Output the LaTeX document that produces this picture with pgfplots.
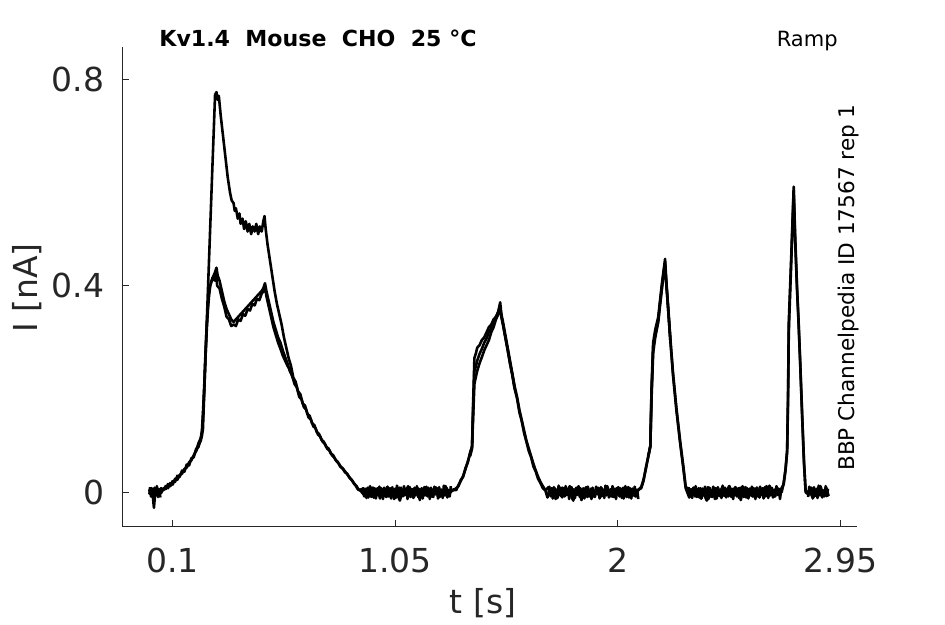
\documentclass[border=0pt]{standalone}
\usepackage{fontspec}
\setmainfont{DejaVu Sans}
\usepackage{pgfplots}
\pgfplotsset{compat=1.18}
\definecolor{axgray}{HTML}{262626}
\begin{document}
\begin{tikzpicture}[x=1bp,y=1bp]
\useasboundingbox (0,0) rectangle (472.5,312);
\begin{axis}[
  at={(61.15bp,48.65bp)}, anchor=south west,
  scale only axis, width=367.2bp, height=240bp,
  xmin=-0.115, xmax=3.02, ymin=-0.0666, ymax=0.863,
  axis lines=left, axis line style={axgray, line width=0.6pt, -},
  tick align=inside, major tick length=3.5bp,
  tick style={axgray, line width=0.6pt},
  xtick={0.1,1.05,2,2.95}, xticklabels={0.1,1.05,2,2.95},
  ytick={0,0.4,0.8}, yticklabels={0,0.4,0.8},
  ticklabel style={font=\fontsize{16.5bp}{18bp}\selectfont, text=axgray, inner sep=0pt},
  xticklabel style={anchor=north, yshift=-10.65bp},
  yticklabel style={anchor=east, xshift=-8.9bp},
  clip=false,
  trace/.style={black, line width=1.3pt, line join=round, mark=none},
]
% Trace A (upper sweep)
\addplot[trace] coordinates {
(0.000,0.006)(0.005,-0.004)(0.010,0.008)(0.015,-0.006)(0.020,-0.030)(0.025,-0.003)(0.030,0.007)(0.035,-0.005)(0.040,0.006)(0.045,-0.002)(0.050,0.008)
(0.06,0.004)(0.07,0.012)(0.08,0.008)(0.09,0.018)(0.10,0.015)(0.11,0.026)(0.12,0.024)(0.13,0.034)(0.14,0.036)(0.15,0.045)(0.16,0.048)(0.17,0.058)(0.18,0.062)(0.19,0.072)(0.20,0.080)(0.21,0.095)(0.215,0.10)(0.22,0.105)(0.229,0.12)(0.24,0.26)(0.25,0.385)(0.26,0.51)(0.27,0.635)(0.281,0.77)(0.287,0.775)(0.292,0.76)(0.297,0.768)(0.305,0.73)(0.315,0.69)(0.325,0.65)(0.335,0.61)(0.345,0.58)(0.352,0.565)(0.36,0.56)(0.365,0.545)(0.37,0.55)(0.378,0.53)(0.385,0.54)(0.39,0.52)(0.398,0.53)(0.405,0.51)(0.412,0.525)(0.42,0.505)(0.427,0.52)(0.435,0.50)(0.442,0.515)(0.45,0.505)(0.457,0.52)(0.465,0.50)(0.472,0.515)(0.48,0.505)(0.487,0.525)(0.492,0.535)(0.497,0.51)(0.505,0.48)(0.515,0.45)(0.525,0.42)(0.535,0.39)(0.545,0.365)(0.555,0.345)(0.565,0.325)(0.575,0.30)(0.585,0.28)(0.595,0.26)
(0.605,0.245)(0.615,0.222)(0.625,0.214)(0.635,0.196)(0.645,0.19)(0.655,0.172)(0.665,0.168)(0.675,0.152)(0.685,0.148)(0.695,0.134)(0.705,0.13)(0.715,0.117)(0.725,0.113)(0.735,0.102)(0.745,0.098)(0.755,0.088)(0.765,0.085)(0.775,0.075)(0.785,0.072)(0.795,0.063)(0.805,0.059)(0.815,0.05)(0.825,0.047)(0.835,0.039)(0.845,0.036)(0.855,0.028)(0.865,0.024)(0.875,0.016)(0.885,0.012)(0.895,0.004)(0.905,0.006)
(0.91,0.004)(0.92,-0.007)(0.93,0.006)(0.94,-0.003)(0.95,0.009)(0.96,-0.010)(0.97,0.002)(0.98,-0.005)(0.99,0.008)(1.00,-0.002)(1.01,0.005)(1.02,-0.008)(1.03,0.003)(1.04,-0.001)(1.05,0.007)(1.06,-0.006)(1.07,-0.016)(1.08,0.002)(1.09,-0.004)(1.10,0.008)(1.11,-0.003)(1.12,0.006)(1.13,-0.009)(1.14,0.001)(1.15,0.007)(1.16,-0.005)(1.17,0.004)(1.18,-0.002)(1.19,0.009)(1.20,-0.007)(1.21,0.005)(1.22,-0.001)(1.23,0.006)(1.24,-0.009)(1.25,0.003)(1.26,-0.004)(1.27,0.008)(1.28,-0.003)(1.29,0.002)
(1.30,0.006)(1.31,0.004)(1.32,0.014)(1.33,0.022)(1.34,0.032)(1.35,0.045)(1.36,0.06)(1.37,0.075)(1.378,0.09)(1.383,0.18)(1.388,0.26)(1.395,0.27)(1.40,0.28)(1.41,0.285)(1.42,0.295)(1.43,0.30)(1.44,0.31)(1.45,0.32)(1.46,0.325)(1.47,0.335)(1.48,0.34)(1.49,0.35)(1.498,0.368)(1.503,0.345)(1.51,0.33)(1.52,0.305)(1.53,0.28)(1.54,0.255)(1.55,0.23)(1.56,0.205)(1.57,0.185)(1.58,0.16)(1.59,0.14)(1.60,0.12)(1.61,0.10)(1.62,0.085)(1.63,0.07)(1.64,0.055)(1.65,0.042)(1.66,0.03)(1.67,0.02)(1.68,0.012)(1.69,0.005)
(1.70,-0.010)(1.71,0.002)(1.72,-0.005)(1.73,0.008)(1.74,-0.002)(1.75,0.005)(1.76,-0.008)(1.77,0.003)(1.78,-0.001)(1.79,0.007)(1.80,-0.006)(1.81,-0.016)(1.82,0.002)(1.83,-0.004)(1.84,0.008)(1.85,-0.003)(1.86,0.006)(1.87,-0.009)(1.88,0.001)(1.89,0.007)(1.90,-0.005)(1.91,0.004)(1.92,-0.002)(1.93,0.009)(1.94,-0.007)(1.95,0.005)(1.96,-0.001)(1.97,0.006)(1.98,-0.009)(1.99,0.003)(2.00,-0.004)(2.01,0.008)(2.02,-0.003)(2.03,0.002)(2.04,-0.006)(2.05,0.007)(2.06,-0.008)(2.07,0.004)(2.08,-0.002)(2.09,0.006)
(2.10,0.01)(2.11,0.025)(2.12,0.045)(2.13,0.07)(2.139,0.09)(2.144,0.2)(2.151,0.29)(2.16,0.315)(2.173,0.34)(2.18,0.37)(2.19,0.41)(2.202,0.452)(2.207,0.41)(2.215,0.36)(2.225,0.295)(2.236,0.23)(2.25,0.165)(2.266,0.10)(2.28,0.05)(2.29,0.01)
(2.30,0.008)(2.31,-0.002)(2.32,0.005)(2.33,-0.008)(2.34,0.003)(2.35,-0.001)(2.36,0.007)(2.37,-0.006)(2.38,-0.016)(2.39,0.002)(2.40,-0.004)(2.41,0.008)(2.42,-0.003)(2.43,0.006)(2.44,-0.009)(2.45,0.001)(2.46,0.007)(2.47,-0.005)(2.48,0.004)(2.49,-0.002)(2.50,0.009)(2.51,-0.007)(2.52,0.005)(2.53,-0.001)(2.54,0.006)(2.55,-0.009)(2.56,0.003)(2.57,-0.004)(2.58,0.008)(2.59,-0.003)(2.60,0.002)(2.61,-0.006)(2.62,0.007)(2.63,-0.008)(2.64,0.004)(2.65,-0.002)(2.66,0.006)(2.67,-0.005)(2.68,0.009)(2.69,-0.003)(2.70,0.001)
(2.708,0.018)(2.716,0.045)(2.723,0.082)(2.727,0.2)(2.730,0.33)(2.74,0.45)(2.751,0.592)(2.757,0.50)(2.765,0.40)(2.772,0.33)(2.779,0.25)(2.788,0.14)(2.795,0.06)(2.802,0.0)
(2.81,-0.003)(2.82,0.006)(2.83,-0.009)(2.84,0.001)(2.85,0.007)(2.86,-0.005)(2.87,0.004)(2.88,-0.002)(2.89,0.009)(2.90,-0.007)
};
% Trace B (lower sweep)
\addplot[trace] coordinates {
(0.000,-0.004)(0.005,0.007)(0.010,-0.008)(0.015,0.004)(0.020,-0.010)(0.025,0.006)(0.030,-0.006)(0.035,0.008)(0.040,-0.003)(0.045,0.005)(0.050,-0.002)
(0.06,0.008)(0.07,0.006)(0.08,0.016)(0.09,0.012)(0.10,0.022)(0.11,0.020)(0.12,0.032)(0.13,0.030)(0.14,0.042)(0.15,0.040)(0.16,0.054)(0.17,0.052)(0.18,0.066)(0.19,0.068)(0.20,0.084)(0.21,0.088)(0.215,0.095)(0.22,0.10)(0.225,0.11)
(0.23,0.15)(0.235,0.20)(0.24,0.26)(0.245,0.31)(0.25,0.35)(0.255,0.38)(0.26,0.40)(0.27,0.415)(0.28,0.425)(0.287,0.435)(0.292,0.42)(0.30,0.41)(0.31,0.39)(0.32,0.37)(0.33,0.355)(0.34,0.345)(0.35,0.335)(0.36,0.33)(0.37,0.335)(0.38,0.34)(0.39,0.345)(0.40,0.35)(0.41,0.355)(0.42,0.36)(0.43,0.365)(0.44,0.37)(0.45,0.375)(0.46,0.38)(0.47,0.385)(0.48,0.39)(0.487,0.395)(0.494,0.405)(0.50,0.39)(0.51,0.37)(0.52,0.35)(0.53,0.33)(0.54,0.315)(0.55,0.30)(0.56,0.29)(0.57,0.275)(0.58,0.262)(0.59,0.25)
(0.60,0.235)(0.61,0.226)(0.62,0.21)(0.63,0.203)(0.64,0.185)(0.65,0.18)(0.66,0.165)(0.67,0.16)(0.68,0.145)(0.69,0.141)(0.70,0.128)(0.71,0.124)(0.72,0.112)(0.73,0.108)(0.74,0.098)(0.75,0.094)(0.76,0.084)(0.77,0.081)(0.78,0.072)(0.79,0.067)(0.80,0.060)(0.81,0.055)(0.82,0.048)(0.83,0.044)(0.84,0.038)(0.85,0.032)(0.86,0.026)(0.87,0.02)(0.88,0.014)(0.89,0.006)(0.90,0.004)
(0.915,-0.004)(0.925,0.007)(0.935,-0.010)(0.945,0.003)(0.955,0.009)(0.965,-0.005)(0.975,0.008)(0.985,-0.012)(0.995,0.004)(1.005,-0.001)(1.015,0.010)(1.025,-0.008)(1.035,0.005)(1.045,-0.013)(1.055,0.007)(1.065,-0.003)(1.075,0.009)(1.085,-0.007)(1.095,0.001)(1.105,0.012)(1.115,-0.009)(1.125,0.004)(1.135,-0.005)(1.145,0.008)(1.155,-0.015)(1.165,0.003)(1.175,0.010)(1.185,-0.004)(1.195,0.007)(1.205,-0.008)(1.215,0.001)(1.225,0.009)(1.235,-0.010)(1.245,0.005)(1.255,-0.003)(1.265,0.012)(1.275,-0.007)(1.285,0.004)
(1.30,0.004)(1.31,0.008)(1.32,0.012)(1.33,0.024)(1.34,0.03)(1.35,0.047)(1.36,0.058)(1.37,0.078)(1.378,0.088)(1.383,0.15)(1.388,0.21)(1.395,0.225)(1.40,0.235)(1.41,0.25)(1.42,0.262)(1.43,0.275)(1.44,0.285)(1.45,0.295)(1.46,0.31)(1.47,0.32)(1.48,0.335)(1.49,0.345)(1.498,0.36)(1.503,0.342)(1.51,0.325)(1.52,0.30)(1.53,0.277)(1.54,0.25)(1.55,0.228)(1.56,0.20)(1.57,0.182)(1.58,0.155)(1.59,0.138)(1.60,0.115)(1.61,0.098)(1.62,0.08)(1.63,0.068)(1.64,0.05)(1.65,0.04)(1.66,0.026)(1.67,0.018)(1.68,0.008)(1.69,0.004)
(1.705,0.010)(1.715,-0.008)(1.725,0.005)(1.735,-0.013)(1.745,0.007)(1.755,-0.003)(1.765,0.009)(1.775,-0.007)(1.785,0.001)(1.795,0.012)(1.805,-0.009)(1.815,0.004)(1.825,-0.005)(1.835,0.008)(1.845,-0.015)(1.855,0.003)(1.865,0.010)(1.875,-0.004)(1.885,0.007)(1.895,-0.008)(1.905,0.001)(1.915,0.009)(1.925,-0.010)(1.935,0.005)(1.945,-0.003)(1.955,0.012)(1.965,-0.007)(1.975,0.004)(1.985,-0.009)(1.995,0.008)(2.005,-0.001)(2.015,0.005)(2.025,-0.012)(2.035,0.003)(2.045,0.010)(2.055,-0.005)(2.065,0.007)(2.075,-0.008)(2.085,0.004)
(2.10,0.008)(2.11,0.022)(2.12,0.048)(2.13,0.068)(2.139,0.088)(2.144,0.18)(2.151,0.27)(2.16,0.30)(2.173,0.33)(2.18,0.36)(2.19,0.40)(2.202,0.445)(2.207,0.405)(2.215,0.355)(2.225,0.29)(2.236,0.226)(2.25,0.16)(2.266,0.096)(2.28,0.046)(2.29,0.008)
(2.305,-0.010)(2.315,0.003)(2.325,0.009)(2.335,-0.005)(2.345,0.008)(2.355,-0.012)(2.365,0.004)(2.375,-0.001)(2.385,0.010)(2.395,-0.008)(2.405,0.005)(2.415,-0.013)(2.425,0.007)(2.435,-0.003)(2.445,0.009)(2.455,-0.007)(2.465,0.001)(2.475,0.012)(2.485,-0.009)(2.495,0.004)(2.505,-0.005)(2.515,0.008)(2.525,-0.015)(2.535,0.003)(2.545,0.010)(2.555,-0.004)(2.565,0.007)(2.575,-0.008)(2.585,0.001)(2.595,0.009)(2.605,-0.010)(2.615,0.005)(2.625,-0.003)(2.635,0.012)(2.645,-0.007)(2.655,0.004)(2.665,-0.009)(2.675,0.008)(2.685,-0.001)(2.695,0.005)
(2.708,0.015)(2.716,0.042)(2.723,0.078)(2.727,0.18)(2.730,0.31)(2.74,0.44)(2.751,0.585)(2.757,0.49)(2.765,0.395)(2.772,0.325)(2.779,0.245)(2.788,0.135)(2.795,0.055)(2.802,0.002)
(2.815,0.001)(2.825,0.009)(2.835,-0.010)(2.845,0.005)(2.855,-0.003)(2.865,0.012)(2.875,-0.007)(2.885,0.004)(2.895,-0.009)
};
% Trace C (second lower sweep, active parts)
\addplot[trace] coordinates {
(0.20,0.08)(0.21,0.09)(0.22,0.105)(0.225,0.12)(0.23,0.16)(0.235,0.21)(0.24,0.27)(0.245,0.32)(0.25,0.36)(0.255,0.385)(0.26,0.40)(0.27,0.415)(0.28,0.41)(0.285,0.425)(0.29,0.40)(0.30,0.395)(0.31,0.375)(0.32,0.36)(0.33,0.34)(0.34,0.335)(0.35,0.322)(0.36,0.325)(0.37,0.322)(0.38,0.335)(0.39,0.332)(0.40,0.345)(0.41,0.342)(0.42,0.355)(0.43,0.352)(0.44,0.365)(0.45,0.362)(0.46,0.375)(0.47,0.372)(0.48,0.385)(0.49,0.39)(0.495,0.398)(0.50,0.38)(0.51,0.36)(0.52,0.34)(0.53,0.32)(0.54,0.305)(0.55,0.29)(0.56,0.278)(0.57,0.265)(0.58,0.255)(0.59,0.245)(0.60,0.238)(0.61,0.225)(0.62,0.215)
};
\addplot[trace] coordinates {
(1.37,0.07)(1.378,0.085)(1.383,0.17)(1.388,0.235)(1.395,0.245)(1.40,0.255)(1.41,0.268)(1.42,0.278)(1.43,0.29)(1.44,0.298)(1.45,0.31)(1.46,0.318)(1.47,0.33)(1.48,0.338)(1.49,0.35)(1.496,0.36)(1.503,0.34)(1.51,0.325)(1.52,0.30)(1.53,0.275)(1.54,0.25)(1.55,0.226)(1.56,0.2)
};
\addplot[trace] coordinates {
(2.13,0.07)(2.139,0.09)(2.144,0.19)(2.151,0.28)(2.16,0.305)(2.173,0.335)(2.18,0.365)(2.19,0.405)(2.20,0.44)(2.205,0.42)(2.215,0.355)(2.225,0.29)
};
% Trace C baseline noise
\addplot[trace] coordinates {
(0.0025,0.010)(0.0075,-0.008)(0.0125,0.006)(0.0175,-0.011)(0.0225,0.009)(0.0275,-0.005)(0.0325,0.012)(0.0375,-0.009)(0.0425,0.004)(0.0475,-0.010)
};
\addplot[trace] coordinates {
(0.9125,0.010)(0.9175,-0.008)(0.9225,0.006)(0.9275,-0.011)(0.9325,0.009)(0.9375,-0.005)(0.9425,0.012)(0.9475,-0.009)(0.9525,0.004)(0.9575,-0.010)(0.9625,0.008)(0.9675,-0.012)(0.9725,0.007)(0.9775,-0.006)(0.9825,0.011)(0.9875,-0.008)(0.9925,0.005)(0.9975,-0.013)(1.0025,0.009)(1.0075,-0.007)
(1.0125,-0.009)(1.0175,0.011)(1.0225,-0.004)(1.0275,0.008)(1.0325,-0.012)(1.0375,0.010)(1.0425,-0.007)(1.0475,0.005)(1.0525,-0.011)(1.0575,0.013)(1.0625,-0.006)(1.0675,0.009)(1.0725,-0.010)(1.0775,0.004)(1.0825,-0.008)(1.0875,0.012)(1.0925,-0.005)(1.0975,0.007)(1.1025,-0.013)(1.1075,0.006)
(1.1125,0.010)(1.1175,-0.008)(1.1225,0.006)(1.1275,-0.011)(1.1325,0.009)(1.1375,-0.005)(1.1425,0.012)(1.1475,-0.009)(1.1525,0.004)(1.1575,-0.010)(1.1625,0.008)(1.1675,-0.012)(1.1725,0.007)(1.1775,-0.006)(1.1825,0.011)(1.1875,-0.008)(1.1925,0.005)(1.1975,-0.013)(1.2025,0.009)(1.2075,-0.007)
(1.2125,-0.009)(1.2175,0.011)(1.2225,-0.004)(1.2275,0.008)(1.2325,-0.012)(1.2375,0.010)(1.2425,-0.007)(1.2475,0.005)(1.2525,-0.011)(1.2575,0.013)(1.2625,-0.006)(1.2675,0.009)(1.2725,-0.010)(1.2775,0.004)(1.2825,-0.008)(1.2875,0.012)
};
\addplot[trace] coordinates {
(1.7025,-0.009)(1.7075,0.011)(1.7125,-0.004)(1.7175,0.008)(1.7225,-0.012)(1.7275,0.010)(1.7325,-0.007)(1.7375,0.005)(1.7425,-0.011)(1.7475,0.013)(1.7525,-0.006)(1.7575,0.009)(1.7625,-0.010)(1.7675,0.004)(1.7725,-0.008)(1.7775,0.012)(1.7825,-0.005)(1.7875,0.007)(1.7925,-0.013)(1.7975,0.006)
(1.8025,0.010)(1.8075,-0.008)(1.8125,0.006)(1.8175,-0.011)(1.8225,0.009)(1.8275,-0.005)(1.8325,0.012)(1.8375,-0.009)(1.8425,0.004)(1.8475,-0.010)(1.8525,0.008)(1.8575,-0.012)(1.8625,0.007)(1.8675,-0.006)(1.8725,0.011)(1.8775,-0.008)(1.8825,0.005)(1.8875,-0.013)(1.8925,0.009)(1.8975,-0.007)
(1.9025,-0.009)(1.9075,0.011)(1.9125,-0.004)(1.9175,0.008)(1.9225,-0.012)(1.9275,0.010)(1.9325,-0.007)(1.9375,0.005)(1.9425,-0.011)(1.9475,0.013)(1.9525,-0.006)(1.9575,0.009)(1.9625,-0.010)(1.9675,0.004)(1.9725,-0.008)(1.9775,0.012)(1.9825,-0.005)(1.9875,0.007)(1.9925,-0.013)(1.9975,0.006)
(2.0025,0.010)(2.0075,-0.008)(2.0125,0.006)(2.0175,-0.011)(2.0225,0.009)(2.0275,-0.005)(2.0325,0.012)(2.0375,-0.009)(2.0425,0.004)(2.0475,-0.010)(2.0525,0.008)(2.0575,-0.012)(2.0625,0.007)(2.0675,-0.006)(2.0725,0.011)(2.0775,-0.008)(2.0825,0.005)(2.0875,-0.013)
};
\addplot[trace] coordinates {
(2.3025,0.010)(2.3075,-0.008)(2.3125,0.006)(2.3175,-0.011)(2.3225,0.009)(2.3275,-0.005)(2.3325,0.012)(2.3375,-0.009)(2.3425,0.004)(2.3475,-0.010)(2.3525,0.008)(2.3575,-0.012)(2.3625,0.007)(2.3675,-0.006)(2.3725,0.011)(2.3775,-0.008)(2.3825,0.005)(2.3875,-0.013)(2.3925,0.009)(2.3975,-0.007)
(2.4025,-0.009)(2.4075,0.011)(2.4125,-0.004)(2.4175,0.008)(2.4225,-0.012)(2.4275,0.010)(2.4325,-0.007)(2.4375,0.005)(2.4425,-0.011)(2.4475,0.013)(2.4525,-0.006)(2.4575,0.009)(2.4625,-0.010)(2.4675,0.004)(2.4725,-0.008)(2.4775,0.012)(2.4825,-0.005)(2.4875,0.007)(2.4925,-0.013)(2.4975,0.006)
(2.5025,0.010)(2.5075,-0.008)(2.5125,0.006)(2.5175,-0.011)(2.5225,0.009)(2.5275,-0.005)(2.5325,0.012)(2.5375,-0.009)(2.5425,0.004)(2.5475,-0.010)(2.5525,0.008)(2.5575,-0.012)(2.5625,0.007)(2.5675,-0.006)(2.5725,0.011)(2.5775,-0.008)(2.5825,0.005)(2.5875,-0.013)(2.5925,0.009)(2.5975,-0.007)
(2.6025,-0.009)(2.6075,0.011)(2.6125,-0.004)(2.6175,0.008)(2.6225,-0.012)(2.6275,0.010)(2.6325,-0.007)(2.6375,0.005)(2.6425,-0.011)(2.6475,0.013)(2.6525,-0.006)(2.6575,0.009)(2.6625,-0.010)(2.6675,0.004)(2.6725,-0.008)(2.6775,0.012)(2.6825,-0.005)(2.6875,0.007)(2.6925,-0.013)(2.6975,0.006)
};
\addplot[trace] coordinates {
(2.8125,-0.009)(2.8175,0.011)(2.8225,-0.004)(2.8275,0.008)(2.8325,-0.012)(2.8375,0.010)(2.8425,-0.007)(2.8475,0.005)(2.8525,-0.011)(2.8575,0.013)(2.8625,-0.006)(2.8675,0.009)(2.8725,-0.010)(2.8775,0.004)(2.8825,-0.008)(2.8875,0.012)(2.8925,-0.005)(2.8975,0.007)
};
\end{axis}
% labels and annotations
\node[font=\fontsize{16.5bp}{18bp}\selectfont, text=axgray, rotate=90, inner sep=0pt] at (13.75,168) {I [nA]};
\node[font=\fontsize{16.5bp}{18bp}\selectfont, text=axgray, inner sep=0pt] at (241.5,10.5) {t [s]};
\node[font=\bfseries\fontsize{11.05bp}{13bp}\selectfont, anchor=base west, inner sep=0pt] at (79.5,288.65) {Kv1.4\ \ Mouse\ \ CHO\ \ 25 °C};
\node[font=\fontsize{10.5bp}{12bp}\selectfont, anchor=base east, inner sep=0pt] at (419,289) {Ramp};
\node[font=\fontsize{10.8bp}{12bp}\selectfont, rotate=90, inner sep=0pt] at (424.5,168.25) {BBP Channelpedia ID 17567 rep 1};
\end{tikzpicture}
\end{document}
